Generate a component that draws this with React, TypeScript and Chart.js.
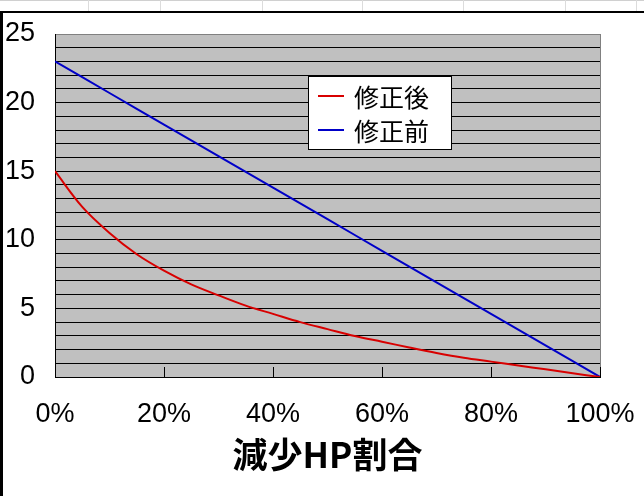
import { useEffect, useRef } from 'react';
import { Chart, registerables } from 'chart.js';

Chart.register(...registerables);

// ---- data ----
const hpLossPct = [0, 5, 10, 15, 20, 25, 30, 35, 40, 45, 50, 55, 60, 65, 70, 75, 80, 85, 90, 95, 100];
const afterFix = [15, 12.4, 10.5, 8.95, 7.75, 6.75, 5.95, 5.2, 4.6, 4.0, 3.49, 2.99, 2.57, 2.15, 1.75, 1.4, 1.12, 0.84, 0.56, 0.27, 0];
const beforeFix = [23, 21.85, 20.7, 19.55, 18.4, 17.25, 16.1, 14.95, 13.8, 12.65, 11.5, 10.35, 9.2, 8.05, 6.9, 5.75, 4.6, 3.45, 2.3, 1.15, 0];
const seriesNames = ['修正後', '修正前'];
const seriesColors = ['#d80000', '#0000c8'];
const xTickValues = [0, 20, 40, 60, 80, 100];
const yLabelEvery = 5;
const xAxisTitle = '減少HP割合';

const sheetLinesX = [88, 160, 262, 362, 463, 565, 636];

const plotDecor = {
  id: 'plotDecor',
  beforeDatasetsDraw(chart: any) {
    const { ctx, chartArea } = chart;
    ctx.save();
    ctx.strokeStyle = '#808080';
    ctx.lineWidth = 1;
    ctx.beginPath();
    ctx.moveTo(Math.round(chartArea.right) + 0.5, chartArea.top);
    ctx.lineTo(Math.round(chartArea.right) + 0.5, chartArea.bottom);
    ctx.stroke();
    const xs = chart.scales.x;
    ctx.strokeStyle = '#000';
    ctx.beginPath();
    xTickValues.forEach((v) => {
      const px = Math.round(xs.getPixelForValue(v)) + 0.5;
      ctx.moveTo(px, chartArea.bottom);
      ctx.lineTo(px, chartArea.bottom - 10);
    });
    ctx.stroke();
    ctx.restore();
  },
  beforeDraw(chart: any) {
    const { ctx, chartArea } = chart;
    ctx.save();
    ctx.fillStyle = '#c0c0c0';
    ctx.fillRect(chartArea.left, chartArea.top, chartArea.right - chartArea.left, chartArea.bottom - chartArea.top);
    ctx.restore();
  },
  afterDraw(chart: any) {
    const { ctx } = chart;
    const boxX = 308.5, boxY = 76.5, boxW = 143, boxH = 73;
    ctx.save();
    ctx.fillStyle = '#fff';
    ctx.fillRect(boxX, boxY, boxW, boxH);
    ctx.strokeStyle = '#000';
    ctx.lineWidth = 1;
    ctx.strokeRect(boxX, boxY, boxW, boxH);
    chart.data.datasets.forEach((ds: any, i: number) => {
      const y = 96 + i * 34;
      ctx.strokeStyle = ds.borderColor;
      ctx.lineWidth = 2;
      ctx.beginPath();
      ctx.moveTo(318, y);
      ctx.lineTo(344, y);
      ctx.stroke();
      ctx.fillStyle = '#000';
      ctx.font = '25px "Noto Sans CJK JP"';
      ctx.textBaseline = 'middle';
      ctx.textAlign = 'left';
      ctx.fillText(ds.label, 354, y + 1);
    });
    ctx.restore();
  },
};

export default function App() {
  const canvasRef = useRef<HTMLCanvasElement | null>(null);

  useEffect(() => {
    if (!canvasRef.current) return;
    const chart = new Chart(canvasRef.current, {
      type: 'line',
      data: {
        datasets: [
          {
            label: seriesNames[0],
            data: hpLossPct.map((x, i) => ({ x, y: afterFix[i] })),
            borderColor: seriesColors[0],
            borderWidth: 2,
            pointRadius: 0,
            tension: 0.35,
            fill: false,
          },
          {
            label: seriesNames[1],
            data: hpLossPct.map((x, i) => ({ x, y: beforeFix[i] })),
            borderColor: seriesColors[1],
            borderWidth: 2,
            pointRadius: 0,
            fill: false,
          },
        ],
      },
      options: {
        responsive: false,
        animation: false,
        events: [],
        layout: { padding: { left: 0, top: 34, right: 44, bottom: 0 } },
        plugins: { legend: { display: false }, tooltip: { enabled: false } },
        scales: {
          x: {
            type: 'linear',
            min: 0,
            max: 100,
            afterFit: (s: any) => {
              s.height = 119;
              s.paddingLeft = 0;
              s.paddingRight = 0;
            },
            afterBuildTicks: (s: any) => { s.ticks = xTickValues.map((v) => ({ value: v })); },
            ticks: {
              callback: (v: any) => `${v}%`,
              font: { family: '"Liberation Sans", Arial, sans-serif', size: 27 },
              color: '#000',
              padding: 21,
              maxRotation: 0,
              autoSkip: false,
            },
            grid: { display: true, drawOnChartArea: false, drawTicks: false },
            border: { display: true, color: '#000', width: 1 },
            title: {
              display: true,
              text: xAxisTitle,
              color: '#000',
              font: { family: '"Noto Sans CJK JP"', size: 35, weight: 'bold' },
              padding: { top: 0, bottom: 20 },
            },
          },
          y: {
            type: 'linear',
            min: 0,
            max: 25,
            afterFit: (s: any) => {
              s.width = 55;
              s.paddingTop = 0;
              s.paddingBottom = 0;
            },
            ticks: {
              stepSize: 1,
              autoSkip: false,
              callback: (v: any) => (Number(v) % yLabelEvery === 0 ? String(v) : ''),
              font: { family: '"Liberation Sans", Arial, sans-serif', size: 27 },
              color: '#000',
              padding: 20,
            },
            grid: {
              color: (c: any) => (c.tick && c.tick.value === 25 ? '#808080' : '#000'),
              lineWidth: 1,
              drawTicks: false,
            },
            border: { display: true, color: '#000', width: 1 },
          },
        },
      },
      plugins: [plotDecor],
    } as any);
    return () => chart.destroy();
  }, []);

  return (
    <div style={{ position: 'fixed', left: 0, top: 0, width: 644, height: 496, background: '#fff', overflow: 'hidden' }}>
      <div style={{ position: 'absolute', left: 0, top: 0, width: 644, height: 1, background: '#d0d0d0' }} />
      {sheetLinesX.map((x) => (
        <div key={x} style={{ position: 'absolute', left: x, top: 0, width: 1, height: 11, background: '#dcdcdc' }} />
      ))}
      <canvas ref={canvasRef} width={644} height={496} style={{ position: 'absolute', left: 0, top: 0, display: 'block' }} />
      <div style={{ position: 'absolute', left: 0, top: 11, width: 644, height: 2, background: '#000' }} />
      <div style={{ position: 'absolute', left: 0, top: 11, width: 3, height: 485, background: '#000' }} />
    </div>
  );
}
